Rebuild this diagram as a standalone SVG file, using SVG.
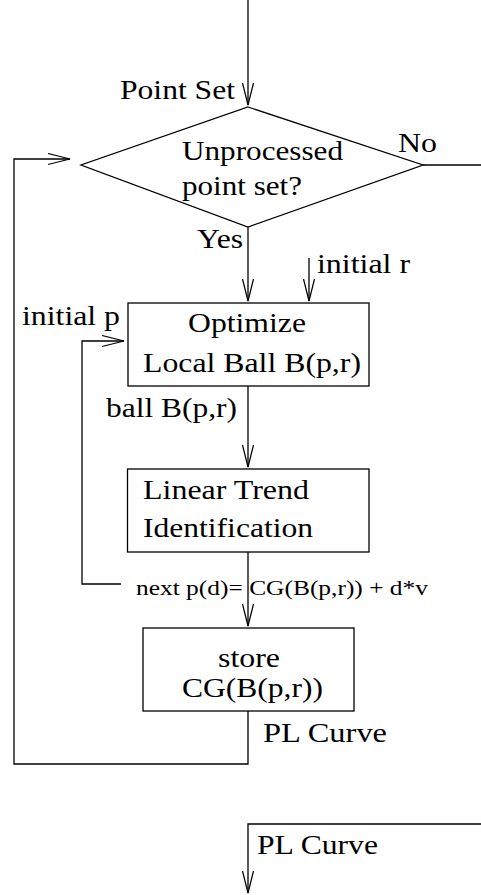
<svg xmlns="http://www.w3.org/2000/svg" width="481" height="895" viewBox="0 0 481 895">
<style>
  .ln{fill:none;stroke:#000;stroke-width:1.3}
  .bx{fill:#fff;stroke:#000;stroke-width:1.3}
  text{font-family:"Liberation Serif","Times New Roman",serif;font-size:27px;fill:#000}
  .sm{font-size:21px}
</style>
<defs>
  <marker id="arr" markerUnits="userSpaceOnUse" markerWidth="26" markerHeight="14" refX="23" refY="6.5" orient="auto">
    <path d="M1,1 L23,6.5 L1,12" fill="none" stroke="#000" stroke-width="1.2"/>
  </marker>
</defs>
<rect width="481" height="895" fill="#fff"/>
<g id="connectors" class="ln">
  <path d="M248,0 V105" marker-end="url(#arr)"/>
  <path d="M423,165 H481"/>
  <path d="M248,227 V301" marker-end="url(#arr)"/>
  <path d="M309,258 V301" marker-end="url(#arr)"/>
  <path d="M248,386 V467" marker-end="url(#arr)"/>
  <path d="M121,584 H82 V341 H124" marker-end="url(#arr)"/>
  <path d="M248,552 V626" marker-end="url(#arr)"/>
  <path d="M248,711 V764 H14 V159 H70" marker-end="url(#arr)"/>
  <path d="M481,824 H248 V893" marker-end="url(#arr)"/>
</g>
<g id="decision">
  <polygon class="bx" points="248,107 423,165 248,227 81,165"/>
  <text x="182" y="160" textLength="161" lengthAdjust="spacingAndGlyphs">Unprocessed</text>
  <text x="182" y="195" textLength="120" lengthAdjust="spacingAndGlyphs">point set?</text>
</g>
<g id="optimize">
  <rect class="bx" x="128" y="303" width="241" height="83"/>
  <text x="188" y="332" textLength="118" lengthAdjust="spacingAndGlyphs">Optimize</text>
  <text x="143" y="372" textLength="218" lengthAdjust="spacingAndGlyphs">Local Ball B(p,r)</text>
</g>
<g id="trend">
  <rect class="bx" x="127.5" y="469" width="241.5" height="83"/>
  <text x="143" y="499" textLength="166" lengthAdjust="spacingAndGlyphs">Linear Trend</text>
  <text x="143" y="537" textLength="170" lengthAdjust="spacingAndGlyphs">Identification</text>
</g>
<g id="store">
  <rect class="bx" x="143" y="628" width="211" height="83"/>
  <text x="218" y="667" textLength="62" lengthAdjust="spacingAndGlyphs">store</text>
  <text x="182" y="697" textLength="141" lengthAdjust="spacingAndGlyphs">CG(B(p,r))</text>
</g>
<g id="labels">
  <text x="120" y="99" textLength="115" lengthAdjust="spacingAndGlyphs">Point Set</text>
  <text x="398" y="152" textLength="39" lengthAdjust="spacingAndGlyphs">No</text>
  <text x="197" y="248" textLength="46" lengthAdjust="spacingAndGlyphs">Yes</text>
  <text x="317" y="273" textLength="93" lengthAdjust="spacingAndGlyphs">initial r</text>
  <text x="22" y="325" textLength="98" lengthAdjust="spacingAndGlyphs">initial p</text>
  <text x="106" y="417" textLength="131" lengthAdjust="spacingAndGlyphs">ball B(p,r)</text>
  <text class="sm" x="136" y="595" textLength="292" lengthAdjust="spacingAndGlyphs">next p(d)= CG(B(p,r)) + d*v</text>
  <text x="263" y="742" textLength="124" lengthAdjust="spacingAndGlyphs">PL Curve</text>
  <text x="257" y="854" textLength="121" lengthAdjust="spacingAndGlyphs">PL Curve</text>
</g>
</svg>
